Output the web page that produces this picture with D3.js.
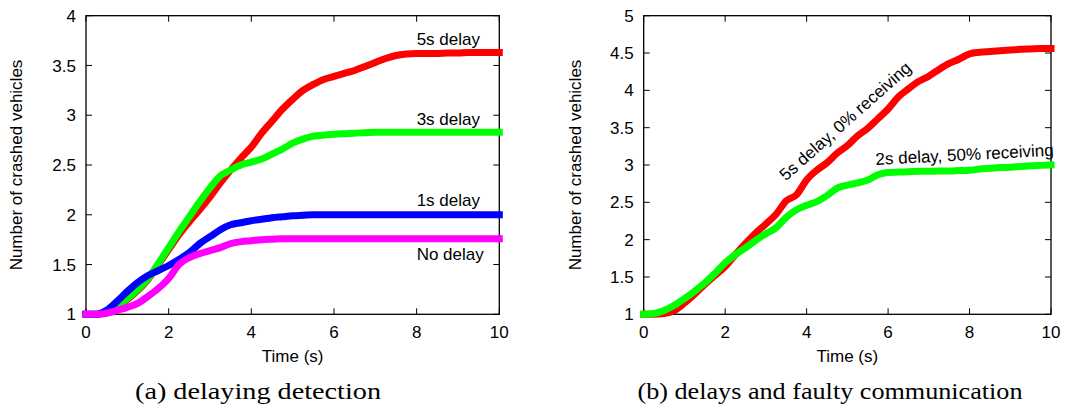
<!DOCTYPE html>
<html><head><meta charset="utf-8">
<script src="https://cdn.jsdelivr.net/npm/d3@7"></script>
<style>
body{margin:0;background:#fff}
svg{display:block}
.sans{font-family:"Liberation Sans",Arial,Helvetica,sans-serif;font-size:17px;fill:#000}
.cap{font-family:"Liberation Serif","Times New Roman",serif;font-size:24px;fill:#000}
</style>
</head><body>
<svg id="c" width="1070" height="406"></svg>
<script>
// ---- shared time grid (s) ----
const times = [0,0.25,0.5,0.75,1,1.25,1.5,1.75,2,2.25,2.5,2.75,3,3.25,3.5,3.75,4,4.25,4.5,4.75,5,
               5.25,5.5,5.75,6,6.25,6.5,6.75,7,7.25,7.5,7.75,8,8.25,8.5,8.75,9,9.25,9.5,9.75,10];

// ---- panel (a): delaying detection ----
const aDelay5 = [1.0,1.0,1.02,1.08,1.15,1.24,1.35,1.5,1.65,1.8,1.93,2.05,2.18,2.32,2.45,2.57,2.68,2.82,2.94,3.06,3.16,
                 3.25,3.31,3.36,3.39,3.42,3.45,3.49,3.53,3.57,3.6,3.615,3.62,3.62,3.62,3.625,3.625,3.63,3.63,3.63,3.63];
const aDelay3 = [1.0,1.0,1.03,1.09,1.16,1.25,1.36,1.51,1.67,1.83,1.98,2.13,2.27,2.39,2.45,2.5,2.53,2.56,2.61,2.66,2.72,
                 2.76,2.79,2.8,2.81,2.815,2.82,2.825,2.83,2.83,2.83,2.83,2.83,2.83,2.83,2.83,2.83,2.83,2.83,2.83,2.83];
const aDelay1 = [1.0,1.0,1.04,1.13,1.23,1.32,1.39,1.44,1.49,1.55,1.62,1.71,1.78,1.85,1.9,1.92,1.94,1.955,1.97,1.98,1.99,
                 1.995,2.0,2.0,2.0,2.0,2.0,2.0,2.0,2.0,2.0,2.0,2.0,2.0,2.0,2.0,2.0,2.0,2.0,2.0,2.0];
const aNoDelay = [1.0,1.0,1.01,1.04,1.07,1.11,1.18,1.26,1.36,1.5,1.57,1.61,1.64,1.67,1.71,1.73,1.74,1.75,1.755,1.76,1.76,
                  1.76,1.76,1.76,1.76,1.76,1.76,1.76,1.76,1.76,1.76,1.76,1.76,1.76,1.76,1.76,1.76,1.76,1.76,1.76,1.76];
const aNames = ["5s delay","3s delay","1s delay","No delay"];
const aLabelT = [8,8,8,8];
const aLabelV = [3.705,2.902,2.088,1.546];
const aYTicks = [1,1.5,2,2.5,3,3.5,4];

// ---- panel (b): delays and faulty communication ----
const bDelay5 = [1.0,1.0,1.01,1.05,1.15,1.27,1.4,1.52,1.64,1.8,1.95,2.09,2.21,2.34,2.52,2.6,2.8,2.93,3.03,3.16,3.26,
                 3.39,3.49,3.62,3.75,3.91,4.02,4.12,4.19,4.28,4.36,4.42,4.49,4.51,4.52,4.53,4.54,4.55,4.555,4.56,4.56];
const bDelay2 = [1.0,1.01,1.05,1.12,1.21,1.31,1.42,1.55,1.69,1.8,1.89,1.99,2.08,2.16,2.3,2.4,2.46,2.51,2.59,2.69,2.73,
                 2.76,2.8,2.87,2.9,2.905,2.91,2.915,2.915,2.92,2.92,2.925,2.93,2.945,2.955,2.965,2.97,2.98,2.99,2.995,3.0];
const bNames = ["5s delay, 0% receiving","2s delay, 50% receiving"];
const bLabelT = [3.49,5.7];
const bLabelV = [2.78,3.0];
const bLabelRot = [-41.5,-3];
const bYTicks = [1,1.5,2,2.5,3,3.5,4,4.5,5];

const xTicks = [0,2,4,6,8,10];
const xTitle = "Time (s)";
const yTitle = "Number of crashed vehicles";
const captions = ["(a) delaying detection","(b) delays and faulty communication"];

const svg = d3.select("#c");

function panel(o){
  const x = d3.scaleLinear().domain([0,10]).range([o.left,o.right]);
  const y = d3.scaleLinear().domain(o.ydom).range([o.bottom,o.top]);
  const g = svg.append("g");
  const tl = 6;
  // ticks (inward, mirrored)
  const tk = g.append("g").attr("stroke","#000").attr("stroke-width",1);
  xTicks.forEach(t=>{
    tk.append("line").attr("x1",x(t)).attr("x2",x(t)).attr("y1",o.bottom).attr("y2",o.bottom-tl);
    tk.append("line").attr("x1",x(t)).attr("x2",x(t)).attr("y1",o.top).attr("y2",o.top+tl);
    g.append("text").attr("class","sans").attr("x",x(t)).attr("y",338).attr("text-anchor","middle").text(t);
  });
  o.yticks.forEach(v=>{
    tk.append("line").attr("x1",o.left).attr("x2",o.left+tl).attr("y1",y(v)).attr("y2",y(v));
    tk.append("line").attr("x1",o.right).attr("x2",o.right-tl).attr("y1",y(v)).attr("y2",y(v));
    g.append("text").attr("class","sans").attr("x",o.left-10).attr("y",y(v)).attr("dy","0.36em")
     .attr("text-anchor","end").text(v);
  });
  g.append("rect").attr("x",o.left).attr("y",o.top).attr("width",o.right-o.left).attr("height",o.bottom-o.top)
   .attr("fill","none").attr("stroke","#000").attr("stroke-width",1.3);
  // titles
  g.append("text").attr("class","sans").attr("x",(o.left+o.right)/2).attr("y",362).attr("text-anchor","middle").text(xTitle);
  g.append("text").attr("class","sans").attr("text-anchor","middle")
   .attr("transform",`translate(${o.ylabX},${(o.top+o.bottom)/2}) rotate(-90)`).text(yTitle);
  // series
  const line = d3.line().x((d,i)=>x(times[i])).y(d=>y(d)).curve(d3.curveMonotoneX);
  o.series.forEach(s=>{
    g.append("path").attr("d",line(s.v)).attr("fill","none").attr("stroke",s.c)
     .attr("stroke-width",7).attr("stroke-linejoin","round").attr("stroke-linecap","square");
  });
  // labels
  o.labels.forEach(l=>{
    g.append("text").attr("class","sans")
     .attr("transform",`translate(${x(l.t)},${y(l.v)}) rotate(${l.r||0})`).text(l.s);
  });
  // caption
  svg.append("text").attr("class","cap").attr("x",o.capX).attr("y",399).attr("text-anchor","middle")
    .attr("textLength",o.capW).attr("lengthAdjust","spacingAndGlyphs").text(o.caption);
}

panel({left:86,right:499.3,top:15.7,bottom:314.3,ydom:[1,4],yticks:aYTicks,ylabX:22,
  series:[{v:aDelay5,c:"#ff0000"},{v:aDelay3,c:"#00ff00"},{v:aDelay1,c:"#0000ff"},{v:aNoDelay,c:"#ff00ff"}],
  labels:aNames.map((s,i)=>({s,t:aLabelT[i],v:aLabelV[i]})),
  caption:captions[0],capX:258,capW:246});

panel({left:643.7,right:1051,top:15.7,bottom:314.3,ydom:[1,5],yticks:bYTicks,ylabX:581,
  series:[{v:bDelay5,c:"#ff0000"},{v:bDelay2,c:"#00ff00"}],
  labels:bNames.map((s,i)=>({s,t:bLabelT[i],v:bLabelV[i],r:bLabelRot[i]})),
  caption:captions[1],capX:830,capW:385});
</script>
</body></html>
